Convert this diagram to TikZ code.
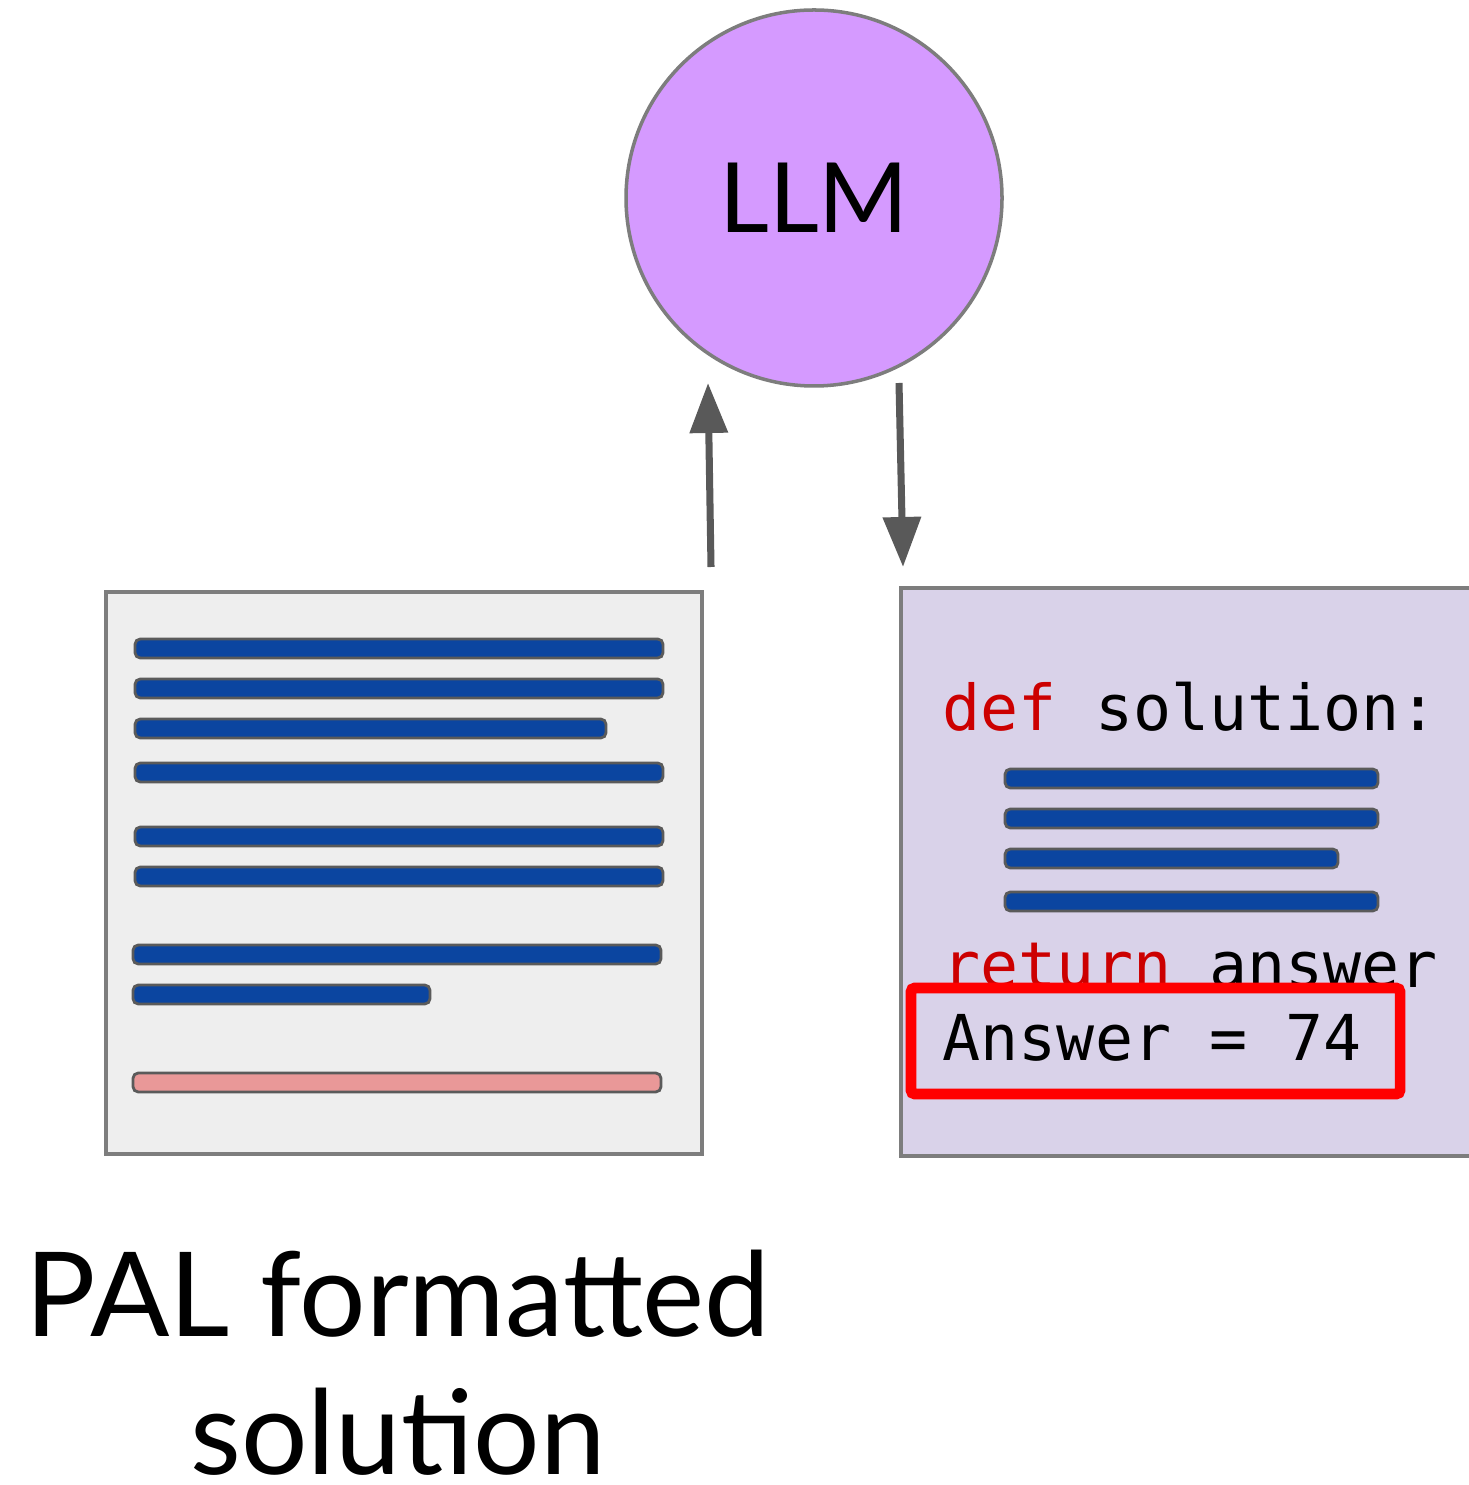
\documentclass[tikz,border=0pt]{standalone}
\usepackage{fontspec}
\setmainfont{Lato}
\newfontfamily\codefont{DejaVu Sans Mono}
\usepackage{tikz}
\usetikzlibrary{positioning, calc, arrows.meta}
\definecolor{llmViolet}{RGB}{213, 154, 255}
\definecolor{edgeGray}{RGB}{125, 125, 125}
\definecolor{barBlue}{RGB}{11, 69, 160}
\definecolor{barEdge}{RGB}{90, 90, 90}
\definecolor{barPink}{RGB}{233, 152, 152}
\definecolor{docGray}{RGB}{238, 238, 238}
\definecolor{codeLilac}{RGB}{217, 210, 233}
\definecolor{kwRed}{RGB}{204, 0, 0}
\definecolor{arrowGray}{RGB}{89, 89, 89}
\tikzset{
  llmnode/.style={circle, draw=edgeGray, fill=llmViolet, line width=1pt,
                  minimum size=3.76cm, inner sep=0pt,
                  font=\fontsize{27.6pt}{33pt}\selectfont},
  docbox/.style={rectangle, draw=edgeGray, fill=docGray, line width=1pt,
                 minimum width=5.96cm, minimum height=5.62cm, inner sep=0pt},
  codebox/.style={rectangle, draw=edgeGray, fill=codeLilac, line width=1pt,
                  minimum width=5.80cm, minimum height=5.68cm, inner sep=0pt},
  barB/.style={draw=barEdge, fill=barBlue, line width=0.8pt, rounded corners=1.5pt},
  barP/.style={draw=barEdge, fill=barPink, line width=0.8pt, rounded corners=1.5pt},
  codetext/.style={anchor=base west, inner sep=0pt,
                   font=\codefont\fontsize{18pt}{22pt}\selectfont},
  ansbox/.style={rectangle, draw=red, line width=3pt, rounded corners=1pt,
                 minimum width=4.89cm, minimum height=1.06cm, inner sep=0pt},
}

\begin{document}
\begin{tikzpicture}[
    arrow/.style={-{Triangle[length=0.5cm, width=0.37cm]}, arrowGray, line width=2pt},
  ]
    \useasboundingbox (0,0) rectangle (14.68,-14.85);

    % LLM
    \node[llmnode] (llm) at (8.14,-1.98) {LLM};

    % input document
    \node[docbox] (doc) at (4.04,-8.73) {};
    \draw[barB] (1.35,-6.39) rectangle (6.63,-6.58);
    \draw[barB] (1.35,-6.79) rectangle (6.63,-6.98);
    \draw[barB] (1.35,-7.19) rectangle (6.06,-7.38);
    \draw[barB] (1.35,-7.63) rectangle (6.63,-7.82);
    \draw[barB] (1.35,-8.27) rectangle (6.63,-8.46);
    \draw[barB] (1.35,-8.67) rectangle (6.63,-8.86);
    \draw[barB] (1.33,-9.45) rectangle (6.61,-9.64);
    \draw[barB] (1.33,-9.85) rectangle (4.30,-10.04);
    \draw[barP] (1.33,-10.73) rectangle (6.61,-10.92);

    % generated code
    \node[codebox] (code) at (11.91,-8.72) {};
    \node[codetext] (defline) at (9.42,-7.30)
         {\textcolor{kwRed}{def} solution:};
    \draw[barB] (10.05,-7.69) rectangle (13.78,-7.88);
    \draw[barB] (10.05,-8.09) rectangle (13.78,-8.28);
    \draw[barB] (10.05,-8.49) rectangle (13.38,-8.68);
    \draw[barB] (10.05,-8.92) rectangle (13.78,-9.11);
    \node[codetext] (retline) at (9.42,-9.87)
         {\textcolor{kwRed}{return} answer};
    \node[ansbox] (ans) at (11.555,-10.41) {};
    \node[codetext] (ansline) at (9.42,-10.60) {Answer = 74};

    % arrows
    \coordinate (upS) at (7.11,-5.67);
    \coordinate (upE) at (7.08,-3.83);
    \coordinate (dnS) at (8.99,-3.83);
    \coordinate (dnE) at (9.03,-5.67);
    \draw[arrow] (upS) -- (upE);
    \draw[arrow] (dnS) -- (dnE);

    % caption
    \node[align=center, inner sep=0pt, anchor=base, text depth=0pt,
          font=\fontsize{33.4pt}{39pt}\selectfont] (cap) at (3.98,-14.74)
         {PAL formatted\\solution};
\end{tikzpicture}
\end{document}
